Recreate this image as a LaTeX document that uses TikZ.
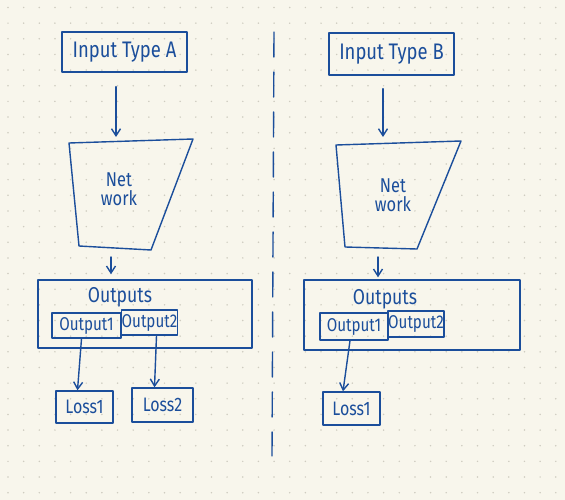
\documentclass[tikz,border=0pt]{standalone}
\usepackage{fontspec}
\setmainfont{Fira Sans}
\newfontfamily\hand{Fira Sans}[FakeStretch=0.82]
\usetikzlibrary{arrows.meta}
\definecolor{bgc}{HTML}{F8F6EC}
\definecolor{dotc}{HTML}{CFCCC0}
\definecolor{inkc}{HTML}{1B4E9B}
\tikzset{
  ink/.style={draw=inkc, line width=1.4pt, line cap=round, line join=round},
  box/.style={draw=inkc, line width=1.4pt, inner sep=0pt, text=inkc, line join=round},
  lbl/.style={text=inkc, inner sep=0pt},
  arr/.style={draw=inkc, line width=1.4pt, line cap=round, -{Straight Barb[length=7pt,width=9pt]}},
  fin/.style={font=\hand\fontsize{22.5}{24}\selectfont},
  fnet/.style={font=\hand\fontsize{20}{19.5}\selectfont},
  fout/.style={font=\hand\fontsize{21.5}{23}\selectfont},
  fsub/.style={font=\hand\fontsize{18.5}{21}\selectfont},
  floss/.style={font=\hand\fontsize{19.5}{21}\selectfont},
}
\begin{document}
\begin{tikzpicture}[x=1pt,y=-1pt]
\fill[bgc] (0,0) rectangle (565,500);
\useasboundingbox (0,0) rectangle (565,500);
\foreach \i in {0,...,35}{
  \foreach \j in {0,...,31}{
    \fill[dotc] (8+15.65*\i, 7.5+15.65*\j) circle (0.85pt);
  }
}
% divider
\coordinate (divTop) at (274,32);
\coordinate (divBot) at (272,456);
\draw[ink, dash pattern=on 25pt off 15pt] (divTop) -- (divBot);

% ---------- Left ----------
\node[box, fin, minimum width=125pt, minimum height=40pt] (inA) at (124.5,52) {Input Type A};
\draw[ink] (69,143) coordinate (tlA) -- (193,139) coordinate (trA) -- (151,250) coordinate (brA) -- (79,246) coordinate (blA) -- cycle;
\coordinate (topA) at (116,141);
\coordinate (botA) at (111,249);
\node[lbl, fnet, align=center] (netA) at (119,189) {Net\\work};
\draw[arr, shorten <=14pt, shorten >=4pt] (inA.south -| topA) -- (topA);
\node[box, minimum width=214pt, minimum height=68pt] (outA) at (145,314) {};
\draw[arr, shorten <=8pt, shorten >=5pt] (botA) -- (botA |- outA.north);
\node[lbl, fout] (outtA) at (120,297) {Outputs};
\node[box, fsub, minimum width=69pt, minimum height=25pt] (o1A) at (86.5,325.5) {Output1};
\node[box, fsub, minimum width=55pt, minimum height=25pt] (o2A) at (149.5,322.5) {Output2};
\node[box, floss, minimum width=57pt, minimum height=32pt] (l1A) at (84.5,407) {Loss1};
\node[box, floss, minimum width=61pt, minimum height=34pt] (l2A) at (162.5,405) {Loss2};
\draw[arr] ([xshift=-5pt]o1A.south) -- ([xshift=-7pt]l1A.north);
\draw[arr] ([xshift=7pt]o2A.south) -- ([xshift=-8pt]l2A.north);

% ---------- Right ----------
\node[box, fin, minimum width=125pt, minimum height=42pt] (inB) at (391.5,54) {Input Type B};
\draw[ink] (336,145) coordinate (tlB) -- (461,141) coordinate (trB) -- (417,249) coordinate (brB) -- (345,247) coordinate (blB) -- cycle;
\coordinate (topB) at (383,143);
\coordinate (botB) at (378,248);
\node[lbl, fnet, align=center] (netB) at (393,195) {Net\\work};
\draw[arr, shorten <=13pt, shorten >=6pt] (inB.south -| topB) -- (topB);
\node[box, minimum width=216pt, minimum height=70pt] (outB) at (412,315) {};
\draw[arr, shorten <=9pt, shorten >=2pt] (botB) -- (botB |- outB.north);
\node[lbl, fout] (outtB) at (385,299) {Outputs};
\node[box, fsub, minimum width=68pt, minimum height=27pt] (o1B) at (354,326.5) {Output1};
\node[box, fsub, minimum width=56pt, minimum height=26pt] (o2B) at (416,324) {Output2};
\node[box, floss, minimum width=57pt, minimum height=33pt] (l1B) at (351.5,408.5) {Loss1};
\draw[arr] ([xshift=-4pt]o1B.south) -- ([xshift=-8.5pt]l1B.north);
\end{tikzpicture}
\end{document}
